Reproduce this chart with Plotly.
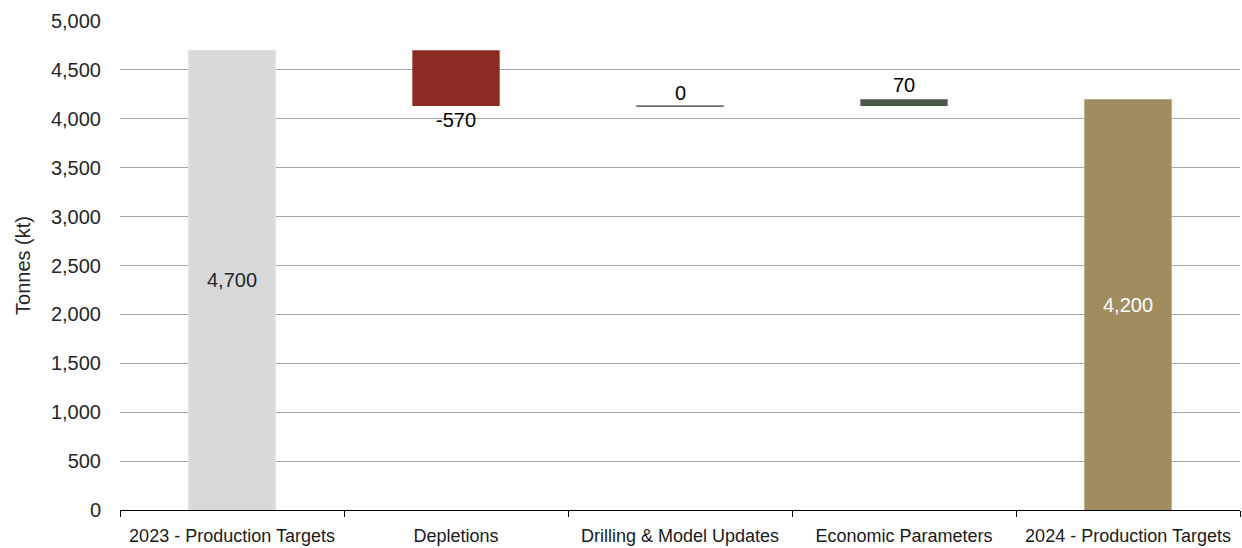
import plotly.graph_objects as go

# Reserve bridge, tonnes (kt)
categories = [
    "2023 - Production Targets",
    "Depletions",
    "Drilling & Model Updates",
    "Economic Parameters",
    "2024 - Production Targets",
]
values = [4700, -570, 0, 70, 4200]
kinds = ["total", "delta", "delta", "delta", "total"]
labels = ["4,700", "-570", "0", "70", "4,200"]
colors = ["#d9d9d9", "#8b2b22", "#6e6e6e", "#4a5847", "#a08d5f"]
label_colors = ["#262626", "#000000", "#000000", "#000000", "#ffffff"]

tick_vals = list(range(0, 5001, 500))
tick_text = [f"{v:,}" for v in tick_vals]

BAR_W = 0.39
FONT = "Liberation Sans, Arial, sans-serif"

# Floating bases for the bridge steps
bases, heights = [], []
running = 0
for v, k in zip(values, kinds):
    if k == "total":
        bases.append(0)
        heights.append(v)
        running = v
    else:
        bases.append(running)
        heights.append(v)
        running += v

positions = ["inside" if k == "total" else "outside" for k in kinds]
texts = [lab if h != 0 else "" for lab, h in zip(labels, heights)]

fig = go.Figure()
fig.add_trace(go.Bar(
    x=categories,
    y=heights,
    base=bases,
    width=BAR_W,
    marker=dict(color=colors, line=dict(width=0)),
    text=texts,
    textposition=positions,
    insidetextanchor="middle",
    textangle=0,
    constraintext="none",
    textfont=dict(family=FONT, size=20, color=label_colors),
    cliponaxis=False,
    hoverinfo="skip",
))

# Zero-change steps are drawn as a thin level line with their label above
for i, (h, b) in enumerate(zip(heights, bases)):
    if h == 0:
        fig.add_shape(
            type="line", xref="x", yref="y",
            x0=i - BAR_W / 2, x1=i + BAR_W / 2, y0=b, y1=b,
            line=dict(color=colors[i], width=1.6),
        )
        fig.add_annotation(
            x=categories[i], y=b, text=labels[i], showarrow=False,
            yanchor="bottom", yshift=0,
            font=dict(family=FONT, size=20, color="#000000"),
        )

fig.update_layout(
    width=1242, height=548,
    margin=dict(l=120, r=2, t=21, b=38),
    paper_bgcolor="white", plot_bgcolor="white",
    showlegend=False,
    font=dict(family=FONT, color="#262626"),
)
fig.update_xaxes(
    type="category",
    automargin=False,
    tickson="boundaries",
    ticks="outside", ticklen=6, tickcolor="#000000", tickwidth=1.3,
    showline=True, linecolor="#000000", linewidth=1.3,
    showgrid=False,
    ticklabelstandoff=9,
    tickfont=dict(size=18, color="#1a1a1a"),
    range=[-0.5, 4.5],
)
fig.update_yaxes(
    range=[0, 5000],
    tickvals=tick_vals, ticktext=tick_text,
    showgrid=True, gridcolor="#a6a6a6", gridwidth=1.4,
    zeroline=False, showline=False,
    ticks="", ticklabelstandoff=18,
    tickfont=dict(size=20, color="#262626"),
    title=dict(text="Tonnes (kt)", font=dict(size=20, color="#262626"), standoff=14),
)

fig.write_html("out.html")
